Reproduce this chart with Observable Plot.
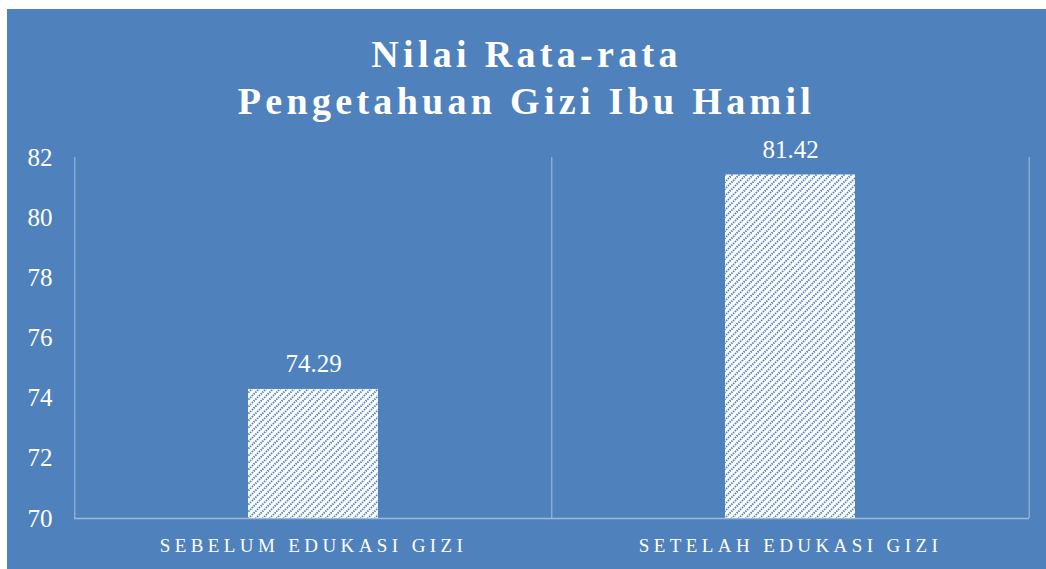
<!DOCTYPE html>
<html>
<head>
<meta charset="utf-8">
<script src="https://cdn.jsdelivr.net/npm/d3@7"></script>
<script src="https://cdn.jsdelivr.net/npm/@observablehq/plot@0.6"></script>
<style>
  html, body { margin: 0; padding: 0; background: #ffffff; }
  #panel {
    position: absolute; left: 7px; top: 9px; width: 1039px; height: 560px;
    background: #4F81BD; overflow: hidden;
  }
  #title {
    position: absolute; left: 0; top: 0; width: 1039px; height: 121px;
    text-align: center; color: #ffffff;
    font-family: "Liberation Serif", serif; font-weight: bold;
    font-size: 38px; letter-spacing: 4.3px; line-height: 47px;
    padding-top: 22px; box-sizing: border-box;
  }
  #chart { position: absolute; left: 0; top: 121px; }
</style>
</head>
<body>
<div id="panel">
  <div id="title">Nilai Rata-rata<br>Pengetahuan Gizi Ibu Hamil</div>
  <div id="chart"></div>
</div>
<script>
const categories = ["SEBELUM EDUKASI GIZI", "SETELAH EDUKASI GIZI"];
const values = [74.29, 81.42];
const yTicks = [70, 72, 74, 76, 78, 80, 82];

const data = categories.map((c, i) => ({cat: c, value: values[i]}));

const W = 1039, H = 439;
const mL = 67, mR = 17, mT = 27, mB = 51;
const step = (W - mL - mR) / categories.length;
const gridColor = "rgba(255,255,255,0.38)";

const chart = Plot.plot({
  width: W,
  height: H,
  marginTop: mT,
  marginBottom: mB,
  marginLeft: mL,
  marginRight: mR,
  style: {background: "transparent", color: "#ffffff", fontFamily: "'Liberation Serif', serif", fontSize: "18px", overflow: "visible"},
  x: {domain: categories, paddingInner: 0.728, paddingOuter: 0.364, label: null, tickSize: 0, tickPadding: 20},
  y: {domain: [70, 82], ticks: yTicks, label: null, tickSize: 0, tickPadding: 22},
  marks: [
    Plot.ruleX(categories, {x: d => d, dx: -step / 2, stroke: gridColor, strokeWidth: 1.3}),
    Plot.ruleX(categories.slice(-1), {x: d => d, dx: step / 2, stroke: gridColor, strokeWidth: 1.3}),
    Plot.barY(data, {x: "cat", y1: 70, y2: "value", fill: "url(#hatch)"}),
    Plot.ruleY([70], {stroke: "rgba(255,255,255,0.45)", strokeWidth: 1.3}),
    Plot.text(data, {x: "cat", y: "value", text: d => d.value.toFixed(2), dy: -25, fontSize: 25, fill: "#ffffff"})
  ]
});

d3.select(chart).selectAll('[aria-label^="y-axis"] text').style("font-size", "25px");
d3.select(chart).selectAll('[aria-label^="x-axis"] text').style("font-size", "19px").style("letter-spacing", "4.4px");

const ns = "http://www.w3.org/2000/svg";
const defs = document.createElementNS(ns, "defs");
defs.innerHTML = `
  <pattern id="hatch" patternUnits="userSpaceOnUse" width="7" height="7">
    <rect width="7" height="7" fill="#ffffff"></rect>
    <path d="M-1,1 L1,-1 M0,7 L7,0 M6,8 L8,6" stroke="#4F81BD" stroke-width="2" stroke-dasharray="1.4 1"></path>
  </pattern>`;
chart.insertBefore(defs, chart.firstChild);
document.getElementById("chart").appendChild(chart);
</script>
</body>
</html>
